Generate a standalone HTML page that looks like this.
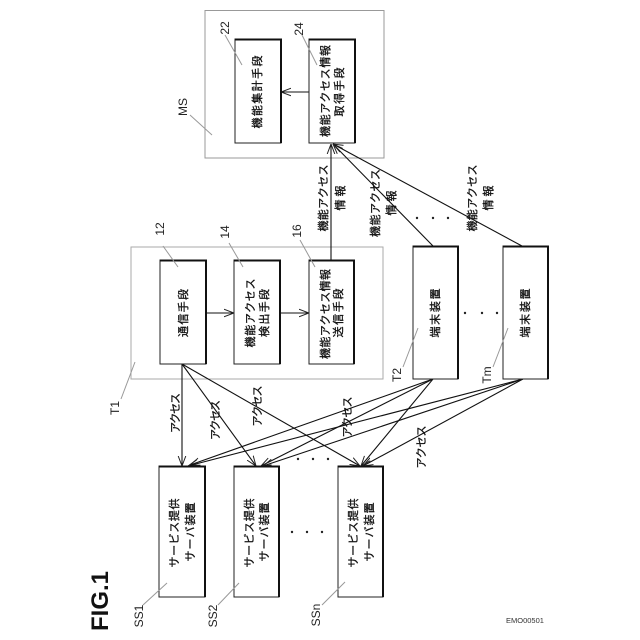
<!DOCTYPE html>
<html>
<head>
<meta charset="utf-8">
<style>
html,body{margin:0;padding:0;background:#fff;width:640px;height:640px;overflow:hidden}
svg{display:block}
text{font-family:"Liberation Sans","Noto Sans CJK JP",sans-serif;fill:#111}
.j{font-size:11px;text-anchor:middle;stroke:#111;stroke-width:.3px}
.n{font-size:12px;text-anchor:middle;fill:#222}
</style>
</head>
<body>
<svg width="640" height="640" viewBox="0 0 640 640" xmlns="http://www.w3.org/2000/svg">
<defs>
<marker id="a" viewBox="0 0 10 10" refX="10" refY="5" markerWidth="10" markerHeight="10" orient="auto" markerUnits="userSpaceOnUse">
<path d="M0 1.2L10 5L0 8.8" fill="none" stroke="#222" stroke-width="1"/>
</marker>
</defs>

<!-- outer frames -->
<rect x="205" y="10.5" width="179" height="147.5" fill="none" stroke="#999" stroke-width="1"/>
<rect x="131" y="247" width="252" height="132" fill="none" stroke="#aaa" stroke-width="1"/>

<!-- connectors -->
<g fill="none" stroke="#111" stroke-width="1.1" marker-end="url(#a)">
<line x1="309" y1="92" x2="281" y2="92"/>
<line x1="206" y1="313" x2="234" y2="313"/>
<line x1="280" y1="313" x2="309" y2="313"/>
<line x1="331" y1="260" x2="331" y2="144"/>
<line x1="433" y1="246" x2="333" y2="144"/>
<line x1="522" y1="246" x2="333" y2="144"/>
<line x1="182" y1="364" x2="182" y2="466"/>
<line x1="182" y1="364" x2="256" y2="466"/>
<line x1="182" y1="364" x2="360" y2="466"/>
<line x1="433" y1="379" x2="190" y2="465"/>
<line x1="433" y1="379" x2="261" y2="466"/>
<line x1="433" y1="379" x2="361" y2="466"/>
<line x1="523" y1="379" x2="188" y2="466"/>
<line x1="523" y1="379" x2="263" y2="466"/>
<line x1="523" y1="379" x2="363" y2="466"/>
</g>

<!-- boxes -->
<g fill="#fff" stroke="#222" stroke-width="1">
<rect x="235" y="39" width="46" height="104"/>
<rect x="309" y="39" width="46" height="104"/>
<rect x="160" y="260" width="46" height="104"/>
<rect x="234" y="260" width="46" height="104"/>
<rect x="309" y="260" width="45" height="104"/>
<rect x="413" y="246" width="45" height="133"/>
<rect x="503" y="246" width="45" height="133"/>
<rect x="159" y="466" width="46" height="131"/>
<rect x="234" y="466" width="45" height="131"/>
<rect x="338" y="466" width="45" height="131"/>
</g>
<!-- heavy top/right edges -->
<g fill="none" stroke="#111" stroke-width="2">
<path d="M235 39.5H281V143"/>
<path d="M309 39.5H355V143"/>
<path d="M160 260.5H206V364"/>
<path d="M234 260.5H280V364"/>
<path d="M309 260.5H354V364"/>
<path d="M413 246.5H458V379"/>
<path d="M503 246.5H548V379"/>
<path d="M159 466.5H205V597"/>
<path d="M234 466.5H279V597"/>
<path d="M338 466.5H383V597"/>
</g>

<!-- leader lines -->
<g fill="none" stroke="#999" stroke-width="1">
<line x1="225" y1="35" x2="242" y2="65"/>
<line x1="302" y1="35" x2="317" y2="65"/>
<line x1="163" y1="246" x2="178" y2="267"/>
<line x1="229" y1="243" x2="243" y2="267"/>
<line x1="300" y1="240" x2="315" y2="267"/>
<line x1="190" y1="115" x2="212" y2="135"/>
<line x1="121" y1="399" x2="135" y2="362"/>
<line x1="403" y1="367" x2="418" y2="328"/>
<line x1="493" y1="367" x2="508" y2="328"/>
<line x1="143" y1="605" x2="167" y2="583"/>
<line x1="218" y1="605" x2="239" y2="583"/>
<line x1="322" y1="605" x2="345" y2="582"/>
</g>

<!-- box labels -->
<g>
<text class="j" transform="translate(261,92) rotate(-90)" textLength="73" lengthAdjust="spacing">機能集計手段</text>
<text class="j" transform="translate(329,91) rotate(-90)" textLength="92" lengthAdjust="spacing">機能アクセス情報</text>
<text class="j" transform="translate(343,92) rotate(-90)" textLength="49" lengthAdjust="spacing">取得手段</text>
<text class="j" transform="translate(187,313) rotate(-90)" textLength="48" lengthAdjust="spacing">通信手段</text>
<text class="j" transform="translate(254,313) rotate(-90)" textLength="69" lengthAdjust="spacing">機能アクセス</text>
<text class="j" transform="translate(268,313) rotate(-90)" textLength="48" lengthAdjust="spacing">検出手段</text>
<text class="j" transform="translate(329,314) rotate(-90)" textLength="90" lengthAdjust="spacing">機能アクセス情報</text>
<text class="j" transform="translate(342,313) rotate(-90)" textLength="49" lengthAdjust="spacing">送信手段</text>
<text class="j" transform="translate(439,313) rotate(-90)" textLength="49" lengthAdjust="spacing">端末装置</text>
<text class="j" transform="translate(529,313) rotate(-90)" textLength="49" lengthAdjust="spacing">端末装置</text>
<text class="j" transform="translate(178,533) rotate(-90)" textLength="69" lengthAdjust="spacing">サービス提供</text>
<text class="j" transform="translate(194,532) rotate(-90)" textLength="59" lengthAdjust="spacing">サーバ装置</text>
<text class="j" transform="translate(253,533) rotate(-90)" textLength="69" lengthAdjust="spacing">サービス提供</text>
<text class="j" transform="translate(268,532) rotate(-90)" textLength="59" lengthAdjust="spacing">サーバ装置</text>
<text class="j" transform="translate(357,533) rotate(-90)" textLength="69" lengthAdjust="spacing">サービス提供</text>
<text class="j" transform="translate(373,532) rotate(-90)" textLength="59" lengthAdjust="spacing">サーバ装置</text>

<!-- connector labels -->
<text class="j" transform="translate(327,198) rotate(-90)" textLength="67" lengthAdjust="spacing">機能アクセス</text>
<text class="j" transform="translate(344,198) rotate(-90)" textLength="25" lengthAdjust="spacing">情報</text>
<text class="j" transform="translate(379,203) rotate(-90)" textLength="68" lengthAdjust="spacing">機能アクセス</text>
<text class="j" transform="translate(395,203) rotate(-90)" textLength="25" lengthAdjust="spacing">情報</text>
<text class="j" transform="translate(476,198) rotate(-90)" textLength="67" lengthAdjust="spacing">機能アクセス</text>
<text class="j" transform="translate(492,198) rotate(-90)" textLength="25" lengthAdjust="spacing">情報</text>
<text class="j" transform="translate(179,413) rotate(-90)" textLength="40" lengthAdjust="spacing">アクセス</text>
<text class="j" transform="translate(219,420) rotate(-90)" textLength="40" lengthAdjust="spacing">アクセス</text>
<text class="j" transform="translate(261,406) rotate(-90)" textLength="41" lengthAdjust="spacing">アクセス</text>
<text class="j" transform="translate(351,417) rotate(-90)" textLength="41" lengthAdjust="spacing">アクセス</text>
<text class="j" transform="translate(425,447) rotate(-90)" textLength="43" lengthAdjust="spacing">アクセス</text>
</g>

<!-- reference numerals -->
<g>
<text class="n" transform="translate(229,28) rotate(-90)">22</text>
<text class="n" transform="translate(303,29) rotate(-90)">24</text>
<text class="n" transform="translate(164,229) rotate(-90)">12</text>
<text class="n" transform="translate(229,232) rotate(-90)">14</text>
<text class="n" transform="translate(301,231) rotate(-90)">16</text>
<text class="n" transform="translate(187,107) rotate(-90)">MS</text>
<text class="n" transform="translate(119,408) rotate(-90)">T1</text>
<text class="n" transform="translate(401,375) rotate(-90)">T2</text>
<text class="n" transform="translate(491,375) rotate(-90)">Tm</text>
<text class="n" transform="translate(143,616) rotate(-90)">SS1</text>
<text class="n" transform="translate(217,616) rotate(-90)">SS2</text>
<text class="n" transform="translate(320,615) rotate(-90)">SSn</text>
</g>

<!-- ellipsis dots -->
<g fill="#222">
<circle cx="417" cy="218" r="1.2"/><circle cx="433" cy="218" r="1.2"/><circle cx="448" cy="218" r="1.2"/>
<circle cx="465" cy="313" r="1.2"/><circle cx="482" cy="313" r="1.2"/><circle cx="497" cy="313" r="1.2"/>
<circle cx="298" cy="459" r="1.2"/><circle cx="313" cy="459" r="1.2"/><circle cx="328" cy="459" r="1.2"/>
<circle cx="292" cy="532" r="1.2"/><circle cx="307" cy="532" r="1.2"/><circle cx="322" cy="532" r="1.2"/>
</g>

<text transform="translate(108,631) rotate(-90)" style="font-size:24px;font-weight:700;fill:#111">FIG.1</text>
<text x="506" y="623" style="font-size:7.5px;fill:#333">EMO00501</text>
</svg>
</body>
</html>
